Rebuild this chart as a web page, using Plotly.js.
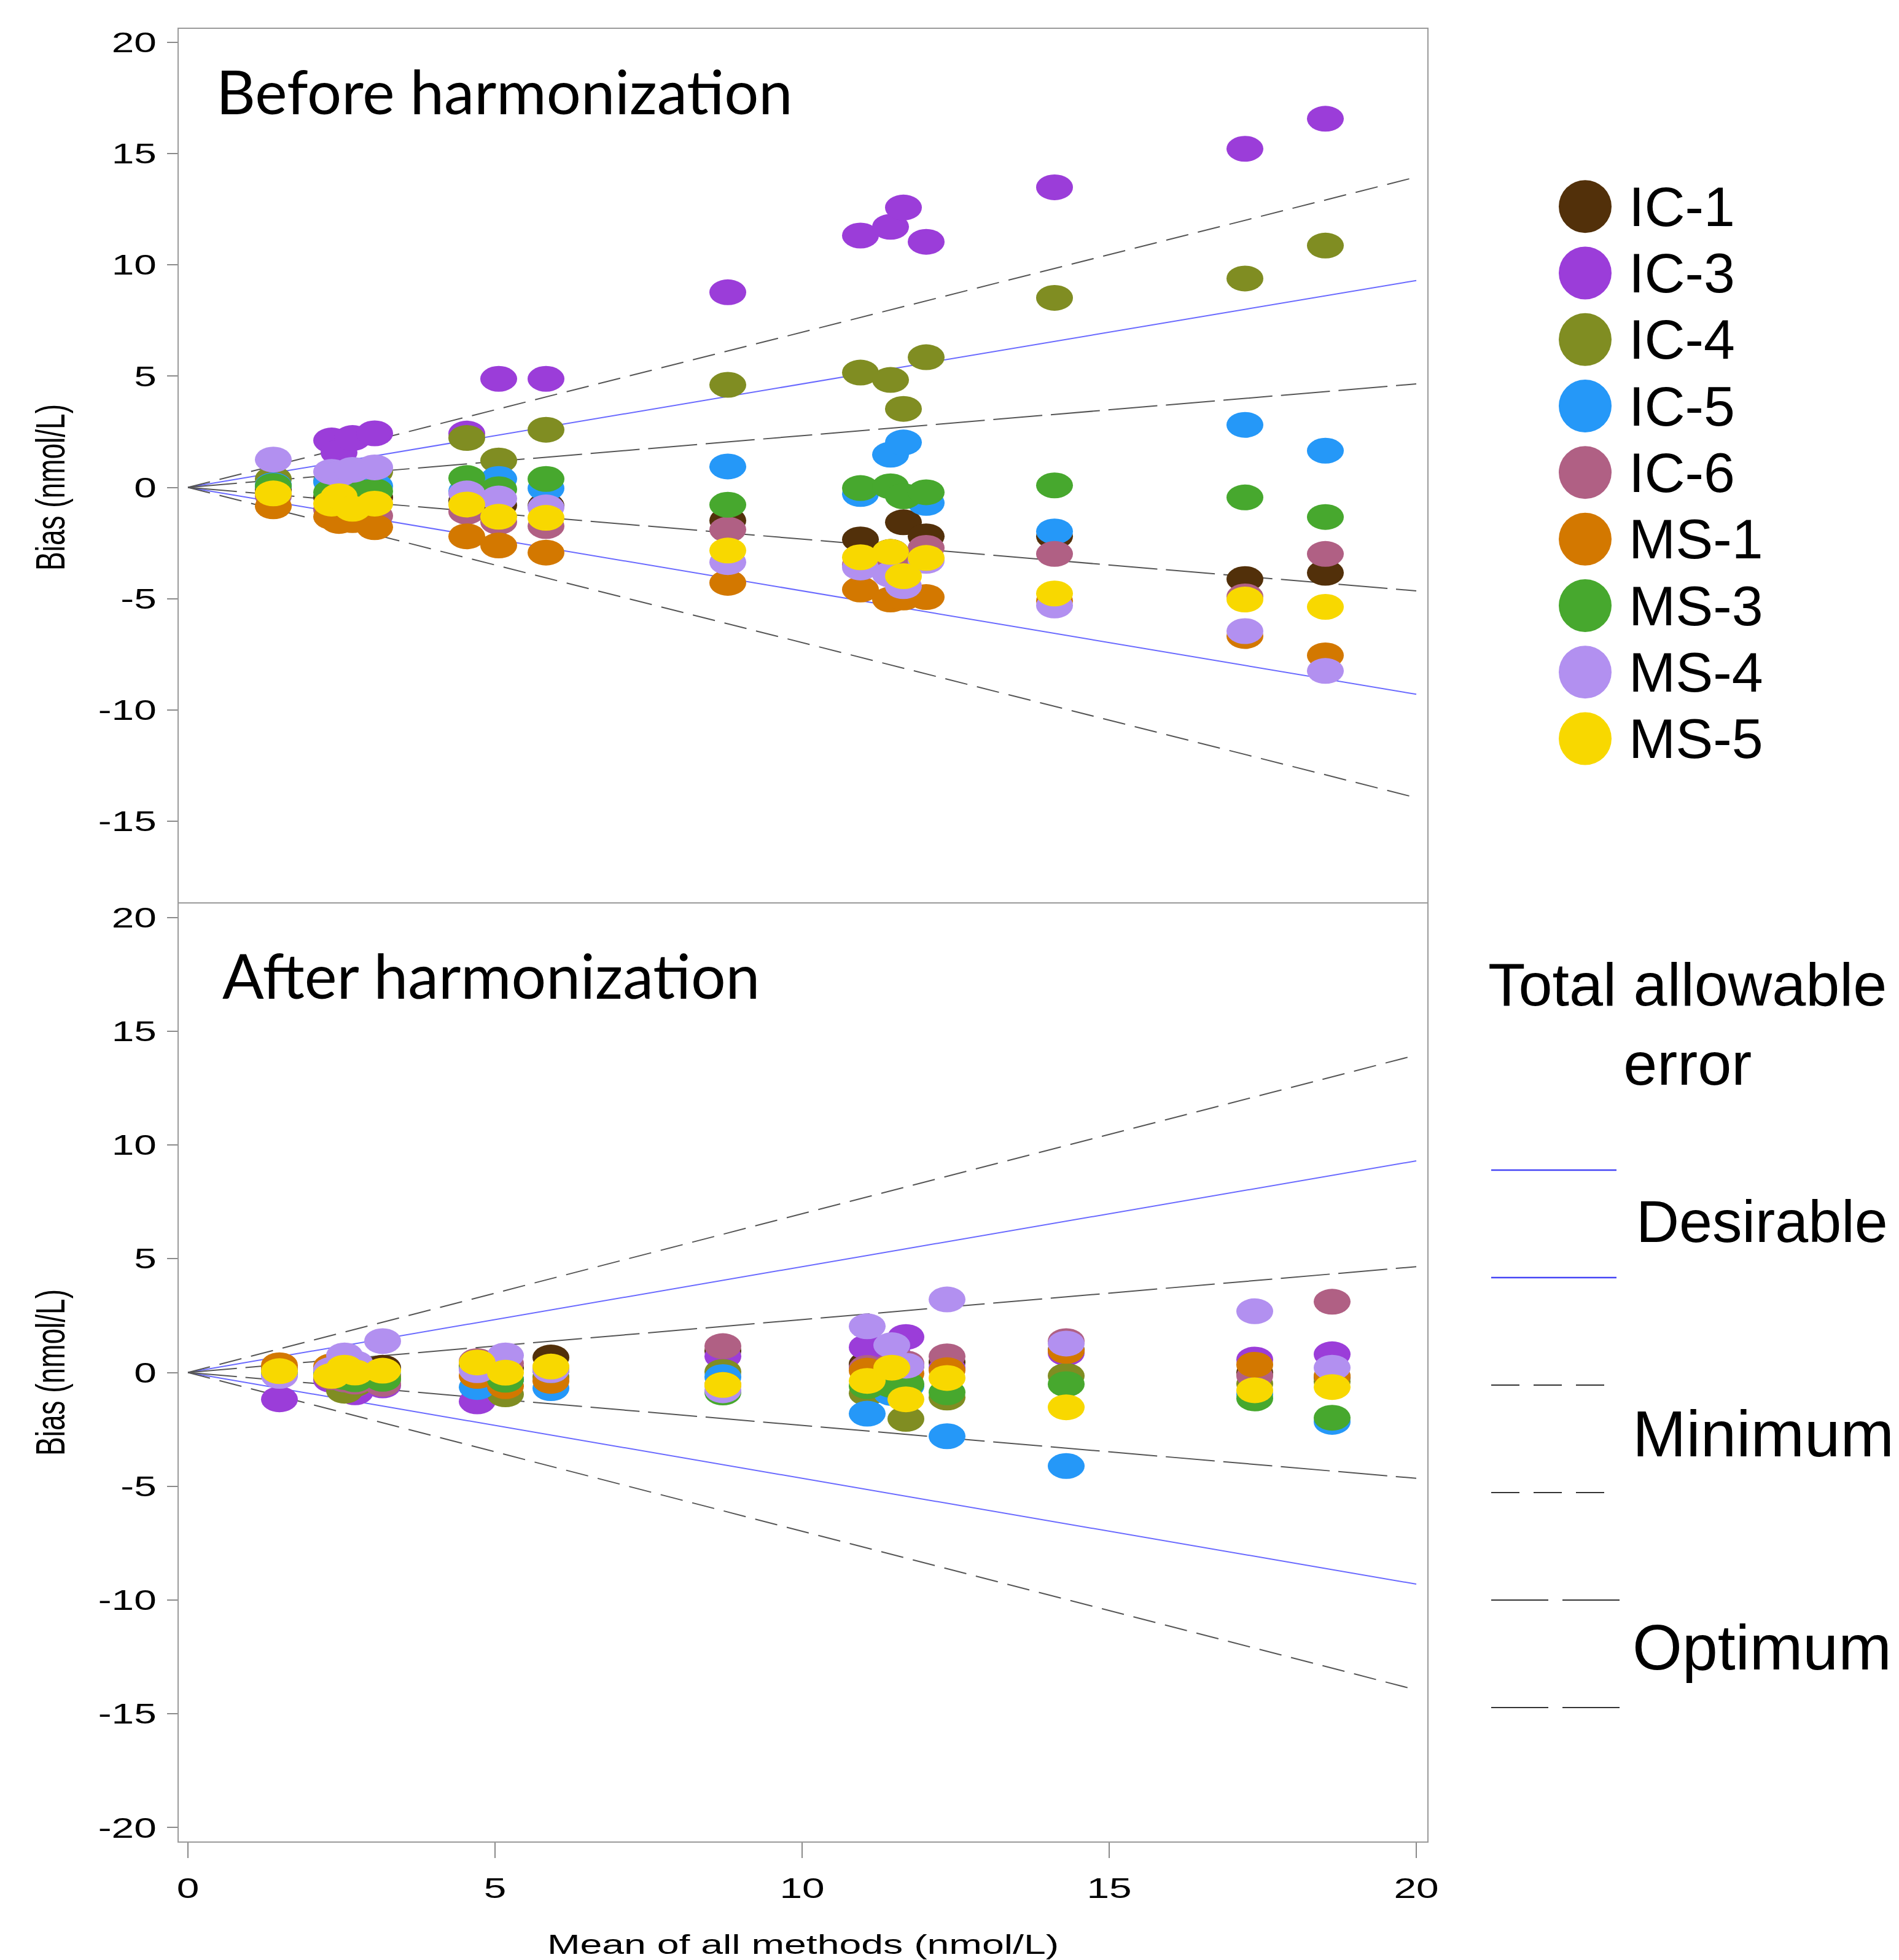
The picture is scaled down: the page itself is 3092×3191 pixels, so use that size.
<!DOCTYPE html>
<html>
<head>
<meta charset="utf-8">
<script src="https://cdn.plot.ly/plotly-3.0.1.min.js"></script>
<style>
  html, body { margin: 0; padding: 0; background: #ffffff; }
  #chart { width: 3092px; height: 3191px; }
</style>
</head>
<body>
<div id="chart"></div>
<script>
// ---------------- DATA ----------------
var methods = ['IC-1', 'IC-3', 'IC-4', 'IC-5', 'IC-6', 'MS-1', 'MS-3', 'MS-4', 'MS-5'];
var methodColors = ['#52300a', '#9b3dd9', '#808d22', '#2598f8', '#b06084', '#d37800', '#47a82e', '#b290f0', '#f8d800'];

// Mean of all methods (nmol/L), before and after harmonization
var meanBefore = [1.39, 2.34, 2.46, 2.68, 3.04, 4.54, 5.06, 5.83, 8.79, 10.95, 11.44, 11.65, 12.02, 14.11, 17.21, 18.52];
var meanAfter  = [1.49, 2.34, 2.55, 2.72, 3.17, 4.71, 5.17, 5.91, 8.71, 11.06, 11.46, 11.69, 12.36, 14.30, 17.37, 18.63];

// Bias (nmol/L) before harmonization
var ic1Before = [-0.10, -0.45, -0.50, -0.60, -0.45, -0.60, -0.80, -0.82, -1.49, -2.34, -2.90, -1.57, -2.20, -2.20, -4.12, -3.84];
var ic3Before = [0.05, 2.11, 1.57, 2.22, 2.43, 2.42, 4.88, 4.88, 8.77, 11.32, 11.71, 12.58, 11.04, 13.49, 15.22, 16.57];
var ic4Before = [0.38, 0.30, 0.50, 0.60, 0.70, 2.22, 1.21, 2.59, 4.61, 5.16, 4.83, 3.53, 5.85, 8.52, 9.39, 10.87];
var ic5Before = [0.10, 0.24, 0.20, 0.10, 0.06, -0.17, 0.38, -0.04, 0.94, -0.30, 1.47, 2.02, -0.70, -1.98, 2.81, 1.65];
var ic6Before = [-0.40, -1.00, -1.10, -1.20, -1.28, -1.09, -1.55, -1.74, -1.90, -3.47, -3.20, -3.60, -2.72, -2.99, -4.90, -2.99];
var ms1Before = [-0.85, -1.32, -1.51, -1.47, -1.79, -2.20, -2.61, -2.93, -4.29, -4.59, -5.04, -4.95, -4.93, -5.10, -6.68, -7.55];
var ms3Before = [0.06, -0.22, -0.10, -0.08, -0.17, 0.42, -0.08, 0.38, -0.78, -0.03, 0.05, -0.40, -0.22, 0.09, -0.45, -1.33];
var ms4Before = [1.25, 0.70, 0.60, 0.79, 0.90, -0.27, -0.50, -0.90, -3.36, -3.60, -3.92, -4.44, -3.30, -5.31, -6.46, -8.25];
var ms5Before = [-0.27, -0.73, -0.40, -0.96, -0.73, -0.77, -1.32, -1.37, -2.84, -3.14, -2.90, -3.99, -3.17, -4.77, -5.04, -5.37];

// Bias (nmol/L) after harmonization
var ic1After = [-0.07, 0.10, 0.20, 0.30, 0.21, 0.30, 0.20, 0.66, 0.95, 0.37, 0.40, 0.30, 0.45, 1.00, 0.00, -0.20];
var ic3After = [-1.18, -0.33, -0.60, -0.87, -0.57, -1.27, -0.30, 0.20, 0.71, 1.11, 0.90, 1.56, 0.20, 0.85, 0.57, 0.80];
var ic4After = [0.10, -0.20, -0.80, -0.50, -0.30, 0.20, -0.96, -0.20, 0.03, -0.91, -0.70, -2.04, -1.10, -0.15, -0.50, -0.40];
var ic5After = [0.00, 0.00, -0.30, -0.20, -0.10, -0.64, -0.30, -0.69, -0.20, -1.81, -0.90, -0.60, -2.80, -4.11, -0.95, -2.17];
var ic6After = [0.20, -0.20, -0.30, -0.40, -0.50, 0.50, 0.40, 0.10, 1.16, 0.20, 0.30, 0.40, 0.71, 1.38, -0.15, 3.11];
var ms1After = [0.32, 0.27, 0.10, 0.00, -0.20, -0.15, -0.60, -0.37, -0.55, 0.08, 0.00, -0.05, 0.10, 0.95, 0.34, -0.15];
var ms3After = [-0.10, -0.10, -0.20, -0.30, -0.28, 0.19, -0.32, 0.10, -0.88, -0.60, -0.55, -0.51, -0.87, -0.51, -1.14, -1.99];
var ms4After = [-0.15, 0.12, 0.75, 0.40, 1.38, 0.10, 0.75, 0.10, -0.78, 2.03, 1.20, 0.30, 3.21, 1.27, 2.69, 0.21];
var ms5After = [0.06, -0.15, 0.21, 0.00, 0.08, 0.44, -0.01, 0.26, -0.55, -0.37, 0.21, -1.18, -0.24, -1.53, -0.78, -0.64];

// Total allowable error limits (bias at the line ends)
var taeX = [0, 20];
var desirableUpper = [0, 9.30];
var desirableLower = [0, -9.30];
var minimumUpper = [0, 13.95];
var minimumLower = [0, -13.95];
var optimumUpper = [0, 4.65];
var optimumLower = [0, -4.65];

var yTickValsTop = [-15, -10, -5, 0, 5, 10, 15, 20];
var yTickTextTop = ['-15', '-10', '-5', '0', '5', '10', '15', '20'];
var yTickVals = [-20, -15, -10, -5, 0, 5, 10, 15, 20];
var yTickText = ['-20', '-15', '-10', '-5', '0', '5', '10', '15', '20'];
var xTickVals = [0, 5, 10, 15, 20];
var xTickText = ['0', '5', '10', '15', '20'];

var beforeSeries = [ic1Before, ic3Before, ic4Before, ic5Before, ic6Before, ms1Before, ms3Before, ms4Before, ms5Before];
var afterSeries = [ic1After, ic3After, ic4After, ic5After, ic6After, ms1After, ms3After, ms4After, ms5After];

// ---------------- TRACES ----------------
var data = [];
var limitLines = [
  {y: desirableUpper, color: '#6a6aff', dash: 'solid'},
  {y: desirableLower, color: '#6a6aff', dash: 'solid'},
  {y: minimumUpper, color: '#555555', dash: '37px,16px'},
  {y: minimumLower, color: '#555555', dash: '37px,16px'},
  {y: optimumUpper, color: '#555555', dash: '80px,14px'},
  {y: optimumLower, color: '#555555', dash: '80px,14px'}
];
[['x', 'y'], ['x2', 'y2']].forEach(function (ax) {
  limitLines.forEach(function (l) {
    data.push({
      x: taeX, y: l.y, xaxis: ax[0], yaxis: ax[1], mode: 'lines',
      line: {color: l.color, width: 2, dash: l.dash},
      showlegend: false, hoverinfo: 'skip'
    });
  });
});
methods.forEach(function (m, i) {
  data.push({
    x: meanBefore, y: beforeSeries[i], xaxis: 'x', yaxis: 'y',
    mode: 'markers', name: m, legendgroup: m, showlegend: true,
    marker: {color: methodColors[i], size: 42, line: {width: 0}}
  });
});
methods.forEach(function (m, i) {
  data.push({
    x: meanAfter, y: afterSeries[i], xaxis: 'x2', yaxis: 'y2',
    mode: 'markers', name: m, legendgroup: m, showlegend: false,
    marker: {color: methodColors[i], size: 42, line: {width: 0}}
  });
});

// ---------------- LAYOUT ----------------
var W = 3092, H = 3191;
function px(v) { return v / W; }
function py(v) { return 1 - v / H; }

var sansFont = 'Liberation Sans, Arial, sans-serif';
var tickFont = {family: sansFont, size: 46, color: '#000000'};
var frame = {showline: true, mirror: true, linecolor: '#9a9a9a', linewidth: 2,
             showgrid: false, zeroline: false};

var layout = {
  width: W, height: H,
  margin: {l: 0, r: 0, t: 0, b: 0, pad: 0},
  paper_bgcolor: '#ffffff', plot_bgcolor: '#ffffff',
  showlegend: true,
  xaxis: {
    domain: [px(291), px(2324)], range: [-0.15, 20.18], anchor: 'y', side: 'top',
    showline: true, mirror: false, linecolor: '#9a9a9a', linewidth: 2,
    showgrid: false, zeroline: false, showticklabels: false, ticks: ''
  },
  yaxis: Object.assign({}, frame, {
    domain: [py(1540), py(47)], range: [-20.61, 20.61], anchor: 'x',
    tickmode: 'array', tickvals: yTickValsTop, ticktext: yTickTextTop,
    ticks: 'outside', ticklen: 17, tickwidth: 2, tickcolor: '#8a8a8a',
    tickfont: tickFont, ticklabelstandoff: 8,
    title: {text: 'Bias (nmol/L)', font: {family: sansFont, size: 46, color: '#000'}, standoff: 68}
  }),
  xaxis2: Object.assign({}, frame, {
    domain: [px(291), px(2324)], range: [-0.15, 20.18], anchor: 'y2',
    tickmode: 'array', tickvals: xTickVals, ticktext: xTickText,
    ticks: 'outside', ticklen: 25, tickwidth: 2, tickcolor: '#8a8a8a',
    tickfont: tickFont, ticklabelstandoff: 10,
    title: {text: 'Mean of all methods (nmol/L)', font: {family: sansFont, size: 45, color: '#000'}, standoff: 70}
  }),
  yaxis2: Object.assign({}, frame, {
    domain: [py(2998), py(1471)], range: [-20.61, 20.61], anchor: 'x2',
    tickmode: 'array', tickvals: yTickVals, ticktext: yTickText,
    ticks: 'outside', ticklen: 17, tickwidth: 2, tickcolor: '#8a8a8a',
    tickfont: tickFont, ticklabelstandoff: 8,
    title: {text: 'Bias (nmol/L)', font: {family: sansFont, size: 46, color: '#000'}, standoff: 68}
  }),
  legend: {
    x: px(2510), y: py(277), xanchor: 'left', yanchor: 'top',
    font: {family: sansFont, size: 81, color: '#000000'},
    itemwidth: 132, bgcolor: 'rgba(0,0,0,0)', borderwidth: 0, tracegroupgap: 0
  },
  annotations: [
    {text: 'Before harmonization', xref: 'paper', yref: 'paper', x: px(350), y: py(147),
     xanchor: 'left', yanchor: 'middle', showarrow: false,
     font: {family: 'Lato, Carlito, sans-serif', size: 99, color: '#000'}},
    {text: 'After harmonization', xref: 'paper', yref: 'paper', x: px(360), y: py(1587),
     xanchor: 'left', yanchor: 'middle', showarrow: false,
     font: {family: 'Lato, Carlito, sans-serif', size: 100, color: '#000'}},
    {text: 'Total allowable<br>error', xref: 'paper', yref: 'paper', x: px(2747), y: py(1667),
     xanchor: 'center', yanchor: 'middle', align: 'center', showarrow: false,
     font: {family: sansFont, size: 99, color: '#000'}},
    {text: 'Desirable', xref: 'paper', yref: 'paper', x: px(2662), y: py(1989),
     xanchor: 'left', yanchor: 'middle', showarrow: false,
     font: {family: sansFont, size: 97, color: '#000'}},
    {text: 'Minimum', xref: 'paper', yref: 'paper', x: px(2656), y: py(2334),
     xanchor: 'left', yanchor: 'middle', showarrow: false,
     font: {family: sansFont, size: 105, color: '#000'}},
    {text: 'Optimum', xref: 'paper', yref: 'paper', x: px(2656), y: py(2682),
     xanchor: 'left', yanchor: 'middle', showarrow: false,
     font: {family: sansFont, size: 104, color: '#000'}}
  ],
  shapes: [
    {type: 'line', xref: 'paper', yref: 'paper', x0: px(2428), x1: px(2632), y0: py(1905), y1: py(1905), line: {color: '#4545f5', width: 2.5}},
    {type: 'line', xref: 'paper', yref: 'paper', x0: px(2428), x1: px(2632), y0: py(2080), y1: py(2080), line: {color: '#4545f5', width: 2.5}},
    {type: 'line', xref: 'paper', yref: 'paper', x0: px(2428), x1: px(2615), y0: py(2255), y1: py(2255), line: {color: '#333333', width: 2, dash: '46px,23px'}},
    {type: 'line', xref: 'paper', yref: 'paper', x0: px(2428), x1: px(2615), y0: py(2430), y1: py(2430), line: {color: '#333333', width: 2, dash: '46px,23px'}},
    {type: 'line', xref: 'paper', yref: 'paper', x0: px(2428), x1: px(2637), y0: py(2605), y1: py(2605), line: {color: '#333333', width: 2, dash: '93px,23px'}},
    {type: 'line', xref: 'paper', yref: 'paper', x0: px(2428), x1: px(2637), y0: py(2780), y1: py(2780), line: {color: '#333333', width: 2, dash: '93px,23px'}}
  ]
};

Plotly.newPlot('chart', data, layout, {staticPlot: true, responsive: false}).then(function (gd) {
  try {
    // the original graph was stretched horizontally: circles appear as ellipses
    gd.querySelectorAll('.scatterlayer .trace .points path.point').forEach(function (p) {
      var t = p.getAttribute('transform') || '';
      p.setAttribute('transform', t + ' scale(1.43,1)');
    });
    // large legend symbols
    gd.querySelectorAll('.legend .legendpoints path.scatterpts').forEach(function (p) {
      var bb = p.getBBox();
      if (bb.width > 0) {
        var s = 86 / bb.width;
        p.setAttribute('transform', (p.getAttribute('transform') || '') + ' scale(' + s + ')');
      }
    });
    // let enlarged legend content show fully
    gd.querySelectorAll('.legend .scrollbox, .legend [clip-path]').forEach(function (g) {
      g.removeAttribute('clip-path');
    });
    function stretch(el, sx, sy) {
      var x = parseFloat(el.getAttribute('x')) || 0;
      var y = parseFloat(el.getAttribute('y')) || 0;
      var t = el.getAttribute('transform') || '';
      el.setAttribute('transform', t + ' translate(' + x + ',' + y + ') scale(' + sx + ',' + sy + ') translate(' + (-x) + ',' + (-y) + ')');
    }
    gd.querySelectorAll('.xtick text, .x2tick text, .ytick text, .y2tick text, text.xtitle, text.x2title').forEach(function (el) { stretch(el, 1.43, 1); });
    gd.querySelectorAll('text.ytitle, text.y2title').forEach(function (el) { stretch(el, 1, 1.43); });
    gd.querySelectorAll('.legend text.legendtext').forEach(function (el) { stretch(el, 1.13, 1.13); });
  } catch (e) { console.log(e); }
});
</script>
</body>
</html>
